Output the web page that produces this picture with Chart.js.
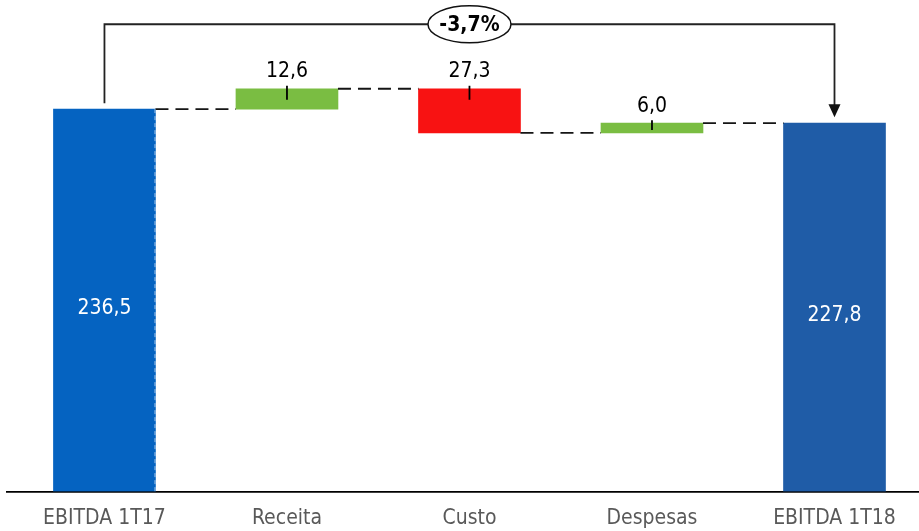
<!DOCTYPE html>
<html>
<head>
<meta charset="utf-8">
<script src="https://cdn.jsdelivr.net/npm/chart.js@4"></script>
<style>
  body { margin: 0; background: #fff; }
  #wrap { width: 919px; height: 531px; position: relative; }
</style>
</head>
<body>
<div id="wrap"><canvas id="ebitda"></canvas></div>
<script>
const categories = ["EBITDA 1T17", "Receita", "Custo", "Despesas", "EBITDA 1T18"];
const values = [236.5, 12.6, -27.3, 6.0, 227.8];
const isTotal = [true, false, false, false, true];
const variationLabel = "-3,7%";

const FONT = '"Liberation Sans Narrow", "DejaVu Sans Condensed", sans-serif';

// running totals -> floating bars
const ranges = [];
let running = 0;
values.forEach((v, i) => {
    if (isTotal[i]) {
        ranges.push([0, v]);
        running = v;
    } else {
        ranges.push([running, running + v]);
        running += v;
    }
});

const colors = values.map((v, i) => {
    if (i === 0) return "#0563C1";
    if (isTotal[i]) return "#1F5CA7";
    return v >= 0 ? "#7ABD42" : "#F81212";
});

const fmt = v => Math.abs(v).toFixed(1).replace(".", ",");

const waterfallExtras = {
    id: "waterfallExtras",
    afterDatasetsDraw(chart) {
        const ctx = chart.ctx;
        const meta = chart.getDatasetMeta(0);
        const y = chart.scales.y;
        const bars = meta.data.map(b => {
            const p = b.getProps(["x", "y", "base", "width"], true);
            return {
                x: p.x, w: p.width,
                left: p.x - p.width / 2, right: p.x + p.width / 2,
                top: Math.min(p.y, p.base), bottom: Math.max(p.y, p.base)
            };
        });

        ctx.save();

        // dashed connectors between consecutive bars
        ctx.strokeStyle = "#151515";
        ctx.lineWidth = 1.8;
        ctx.setLineDash([13, 7]);
        for (let i = 0; i < bars.length - 1; i++) {
            const level = y.getPixelForValue(ranges[i][1]);
            ctx.beginPath();
            ctx.moveTo(bars[i].right, level);
            ctx.lineTo(bars[i + 1].left, level);
            ctx.stroke();
        }

        // dashed edge on the first bar
        ctx.strokeStyle = "rgba(255,255,255,0.6)";
        ctx.lineWidth = 1;
        ctx.setLineDash([4, 3]);
        ctx.beginPath();
        ctx.moveTo(bars[0].right - 0.5, bars[0].top);
        ctx.lineTo(bars[0].right - 0.5, bars[0].bottom);
        ctx.stroke();
        ctx.setLineDash([]);

        // value labels
        ctx.textAlign = "center";
        ctx.textBaseline = "middle";
        bars.forEach((b, i) => {
            if (isTotal[i]) {
                ctx.fillStyle = "#fff";
                ctx.font = "21px " + FONT;
                ctx.fillText(fmt(values[i]), b.x, (b.top + b.bottom) / 2 + 8);
            } else {
                ctx.fillStyle = "#000";
                ctx.font = "21px " + FONT;
                ctx.fillText(fmt(values[i]), b.x, b.top - 17);
                ctx.strokeStyle = "#000";
                ctx.lineWidth = 1.8;
                ctx.beginPath();
                ctx.moveTo(b.x, b.top - 3);
                ctx.lineTo(b.x, Math.min(b.top + 11, b.bottom - 3));
                ctx.stroke();
            }
        });

        // variation bracket with arrow
        const first = bars[0], last = bars[bars.length - 1];
        const bracketY = y.getPixelForValue(289);
        ctx.strokeStyle = "#222";
        ctx.lineWidth = 1.8;
        ctx.beginPath();
        ctx.moveTo(first.x, first.top - 6);
        ctx.lineTo(first.x, bracketY);
        ctx.lineTo(last.x, bracketY);
        ctx.lineTo(last.x, last.top - 18);
        ctx.stroke();
        ctx.fillStyle = "#111";
        ctx.beginPath();
        ctx.moveTo(last.x, last.top - 6);
        ctx.lineTo(last.x - 6, last.top - 19);
        ctx.lineTo(last.x + 6, last.top - 19);
        ctx.closePath();
        ctx.fill();

        const mid = bars[2].x;
        ctx.beginPath();
        ctx.ellipse(mid, bracketY, 41.5, 18.5, 0, 0, Math.PI * 2);
        ctx.fillStyle = "#fff";
        ctx.fill();
        ctx.lineWidth = 1.5;
        ctx.strokeStyle = "#111";
        ctx.stroke();
        ctx.fillStyle = "#000";
        ctx.font = "bold 21px " + FONT;
        ctx.fillText(variationLabel, mid, bracketY + 1);

        ctx.restore();
    }
};

const chart = new Chart(document.getElementById("ebitda"), {
    type: "bar",
    data: {
        datasets: [{
            data: ranges.map((r, i) => ({ x: i, y: r })),
            backgroundColor: colors,
            borderWidth: 0,
            barThickness: 102
        }]
    },
    options: {
        responsive: true,
        maintainAspectRatio: false,
        animation: false,
        layout: { padding: { left: 7, right: 0, top: 0, bottom: 0 } },
        plugins: {
            legend: { display: false },
            tooltip: { enabled: false }
        },
        scales: {
            x: {
                type: "linear",
                offset: false,
                min: -0.534,
                max: 4.463,
                afterBuildTicks: scale => {
                    scale.ticks = categories.map((c, i) => ({ value: i }));
                },
                afterFit: scale => { scale.height = 39.5; },
                grid: { display: false, drawTicks: false, offset: false },
                border: { display: true, color: "#000", width: 1.8 },
                ticks: {
                    autoSkip: false,
                    maxRotation: 0,
                    padding: 14,
                    color: "#595959",
                    font: { family: FONT, size: 21 },
                    callback: v => categories[v]
                }
            },
            y: {
                display: false,
                min: 0,
                max: 304
            }
        }
    },
    plugins: [waterfallExtras]
});
</script>
</body>
</html>
